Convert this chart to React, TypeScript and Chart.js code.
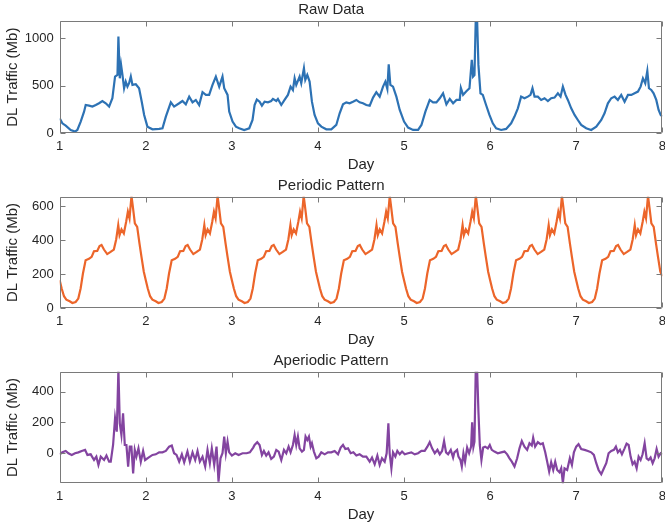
import React, { useEffect, useRef } from 'react';
import { Chart, registerables } from 'chart.js';

Chart.register(...registerables);

// ---------- data ----------
const dayTicks = [1, 2, 3, 4, 5, 6, 7, 8];
const rawTicks = [0, 500, 1000];
const periodicTicks = [0, 200, 400, 600];
const aperiodicTicks = [0, 200, 400];

const rawDays = [
  1.000, 1.031, 1.070, 1.128, 1.178, 1.205, 1.244, 1.283, 1.302, 1.341, 1.380, 1.419, 1.457, 1.496, 1.535, 1.574,
  1.612, 1.643, 1.671, 1.682, 1.698, 1.713, 1.729, 1.748, 1.767, 1.787, 1.806, 1.826, 1.845, 1.884, 1.922, 1.953,
  1.981, 2.019, 2.078, 2.155, 2.194, 2.233, 2.291, 2.329, 2.388, 2.426, 2.465, 2.504, 2.543, 2.581, 2.620, 2.659,
  2.698, 2.736, 2.775, 2.814, 2.853, 2.891, 2.911, 2.950, 2.969, 3.008, 3.047, 3.085, 3.143, 3.202, 3.240, 3.264,
  3.290, 3.322, 3.349, 3.380, 3.419, 3.457, 3.477, 3.516, 3.535, 3.574, 3.612, 3.651, 3.682, 3.709, 3.729, 3.748,
  3.787, 3.806, 3.837, 3.853, 3.876, 3.903, 3.930, 3.961, 4.000, 4.039, 4.097, 4.155, 4.213, 4.252, 4.291, 4.329,
  4.368, 4.407, 4.446, 4.484, 4.523, 4.562, 4.601, 4.640, 4.678, 4.717, 4.756, 4.783, 4.806, 4.822, 4.841, 4.872,
  4.911, 4.950, 5.000, 5.047, 5.105, 5.163, 5.202, 5.248, 5.298, 5.337, 5.376, 5.415, 5.453, 5.492, 5.531, 5.570,
  5.609, 5.647, 5.660, 5.686, 5.721, 5.760, 5.787, 5.802, 5.818, 5.833, 5.849, 5.864, 5.888, 5.915, 5.953, 5.992,
  6.031, 6.070, 6.128, 6.186, 6.244, 6.283, 6.322, 6.360, 6.399, 6.438, 6.469, 6.492, 6.516, 6.554, 6.593, 6.632,
  6.671, 6.709, 6.748, 6.787, 6.818, 6.845, 6.876, 6.903, 6.942, 6.981, 7.019, 7.058, 7.116, 7.174, 7.233, 7.291,
  7.329, 7.368, 7.407, 7.446, 7.484, 7.523, 7.562, 7.601, 7.640, 7.678, 7.717, 7.748, 7.775, 7.802, 7.826, 7.845,
  7.872, 7.899, 7.930, 7.957, 7.981, 8.000,
];
const rawValues = [
  158, 105, 81, 35, 18, 35, 123, 228, 298, 291, 281, 298, 316, 340, 316, 281,
  369, 597, 614, 1018, 579, 720, 614, 474, 544, 491, 527, 597, 509, 516, 474, 333,
  193, 70, 42, 46, 53, 176, 326, 281, 316, 340, 305, 386, 326, 351, 298, 432,
  404, 404, 509, 597, 491, 597, 474, 404, 228, 123, 70, 53, 35, 53, 140, 298,
  355, 333, 291, 333, 326, 340, 362, 340, 362, 298, 351, 404, 491, 456, 579, 509,
  597, 527, 684, 562, 614, 544, 333, 193, 105, 70, 42, 42, 88, 211, 305, 326,
  316, 333, 351, 326, 316, 298, 291, 376, 432, 386, 491, 544, 467, 727, 509, 491,
  386, 246, 123, 60, 35, 35, 88, 228, 351, 326, 326, 369, 421, 305, 362, 316,
  351, 351, 478, 404, 439, 474, 772, 597, 614, 1200, 1190, 720, 421, 404, 298, 193,
  105, 53, 35, 46, 105, 176, 263, 386, 369, 386, 404, 474, 386, 386, 351, 369,
  340, 369, 376, 421, 386, 491, 404, 351, 263, 193, 140, 88, 53, 35, 70, 140,
  211, 316, 369, 386, 351, 404, 333, 404, 404, 421, 439, 491, 579, 527, 656, 474,
  456, 421, 351, 246, 193, 176,
];

// one-day periodic profile (fraction of day -> Mb), identical every day
const periodicDayFraction = [
  0.000, 0.023, 0.050, 0.077, 0.116, 0.147, 0.185, 0.216, 0.243, 0.270, 0.301, 0.340, 0.371, 0.398, 0.436, 0.463,
  0.486, 0.514, 0.552, 0.591, 0.629, 0.656, 0.680, 0.695, 0.718, 0.745, 0.772, 0.792, 0.811, 0.834, 0.849, 0.873,
  0.900, 0.927, 0.950, 0.977,
];
const periodicProfile = [
  165, 116, 71, 51, 41, 31, 37, 57, 116, 204, 282, 290, 302, 335, 337, 365,
  371, 345, 318, 331, 345, 404, 488, 429, 463, 439, 508, 567, 528, 660, 600, 498,
  478, 380, 302, 215,
];
const periodicDays = [1, 2, 3, 4, 5, 6, 7];
const periodicEndDay = 8;
const periodicEndValue = 188;

const aperiodicDays = [
  1.000, 1.031, 1.070, 1.101, 1.140, 1.178, 1.217, 1.256, 1.295, 1.322, 1.360, 1.399, 1.426, 1.450, 1.477, 1.516,
  1.543, 1.574, 1.593, 1.620, 1.643, 1.663, 1.682, 1.698, 1.717, 1.736, 1.756, 1.775, 1.795, 1.814, 1.833, 1.853,
  1.872, 1.891, 1.915, 1.942, 1.969, 1.992, 2.031, 2.078, 2.116, 2.155, 2.194, 2.233, 2.271, 2.302, 2.329, 2.357,
  2.388, 2.419, 2.446, 2.484, 2.512, 2.543, 2.574, 2.601, 2.628, 2.659, 2.690, 2.717, 2.744, 2.767, 2.795, 2.822,
  2.845, 2.868, 2.891, 2.911, 2.930, 2.950, 2.969, 3.000, 3.039, 3.078, 3.124, 3.171, 3.209, 3.248, 3.264, 3.295,
  3.322, 3.349, 3.372, 3.399, 3.426, 3.457, 3.488, 3.516, 3.543, 3.574, 3.605, 3.632, 3.659, 3.682, 3.709, 3.729,
  3.748, 3.767, 3.787, 3.814, 3.837, 3.856, 3.876, 3.895, 3.915, 3.930, 3.953, 3.981, 4.008, 4.039, 4.078, 4.116,
  4.155, 4.194, 4.233, 4.264, 4.291, 4.318, 4.349, 4.380, 4.411, 4.446, 4.484, 4.523, 4.562, 4.601, 4.628, 4.659,
  4.690, 4.717, 4.744, 4.775, 4.798, 4.818, 4.833, 4.853, 4.872, 4.899, 4.922, 4.950, 4.977, 5.008, 5.047, 5.085,
  5.124, 5.163, 5.202, 5.240, 5.271, 5.298, 5.326, 5.357, 5.388, 5.415, 5.442, 5.465, 5.488, 5.512, 5.543, 5.570,
  5.585, 5.616, 5.632, 5.655, 5.671, 5.690, 5.709, 5.733, 5.756, 5.779, 5.791, 5.806, 5.818, 5.833, 5.849, 5.864,
  5.880, 5.899, 5.919, 5.942, 5.973, 5.996, 6.019, 6.050, 6.089, 6.128, 6.167, 6.198, 6.225, 6.252, 6.283, 6.314,
  6.341, 6.368, 6.399, 6.430, 6.457, 6.484, 6.500, 6.523, 6.554, 6.585, 6.612, 6.640, 6.663, 6.686, 6.709, 6.733,
  6.756, 6.779, 6.806, 6.826, 6.845, 6.864, 6.895, 6.926, 6.950, 6.973, 7.000, 7.027, 7.058, 7.097, 7.136, 7.174,
  7.205, 7.233, 7.260, 7.291, 7.322, 7.349, 7.376, 7.407, 7.438, 7.461, 7.484, 7.508, 7.531, 7.562, 7.585, 7.609,
  7.632, 7.655, 7.678, 7.702, 7.725, 7.748, 7.771, 7.795, 7.818, 7.841, 7.864, 7.888, 7.911, 7.934, 7.957, 7.981,
  8.000,
];
const aperiodicValues = [
  -9, 4, 13, -2, -13, -2, 4, 13, 20, -13, -9, -46, -24, -78, -24, -46,
  -17, -57, -57, 52, 226, 139, 545, 193, 117, 259, 52, 52, -89, 41, 41, -133,
  20, -24, 30, -57, 13, -46, -30, -13, -9, 4, 4, 13, 41, 48, -2, -13,
  -57, -9, -61, 9, -57, 4, -46, 13, -57, -24, -89, 20, -67, 30, -78, 41,
  -187, -35, -2, 107, -2, 74, 4, -17, -2, -13, -2, -2, 4, 35, 52, 70,
  52, -13, 13, -17, 4, -39, -24, 20, 9, -46, 20, -2, 41, 4, 52, 117,
  52, 107, 30, 9, 20, 107, 85, 107, 41, 63, 9, -35, -24, 4, -9, 4,
  4, 13, -9, 35, 52, 26, 30, -2, 4, -17, -9, -24, -24, -57, -30, -74,
  -17, -78, -35, -57, -2, 193, -2, -100, 4, -24, 13, -9, 9, -9, -2, 4,
  -9, -2, 13, 13, 41, 70, 30, -2, 20, -9, 13, 78, 4, -9, 20, -30,
  4, 20, -24, -46, -89, -2, -57, 35, -2, 41, 200, 41, 74, 545, 540, 270,
  52, -46, 35, 41, 30, 52, 20, 9, -2, 4, 9, -9, -35, -57, -89, -35,
  30, 78, 41, 20, 63, 48, 100, 41, 70, 57, 63, 4, -57, -122, -61, -111,
  -57, -111, -126, -100, -195, -100, -111, -35, -78, 4, 41, 57, 26, 20, 13, 4,
  -13, -67, -111, -139, -100, -67, -2, 13, 20, 41, 4, 20, -9, 30, 61, 52,
  -24, -74, -57, -100, -24, -46, -9, 63, -35, -46, -30, -67, -35, 26, -24, -2,
  -9,
];

// ---------- helpers ----------
const FONT = "'Liberation Sans', Arial, Helvetica, sans-serif";
const TEXT = '#262626';

const boxPlugin = {
  id: 'matlabBox',
  afterDatasetsDraw(chart: any) {
    const { ctx, chartArea } = chart;
    const { left, right, top, bottom } = chartArea;
    const xs = chart.scales.x;
    const ys = chart.scales.y;
    const L = Math.round(left) + 0.5;
    const R = Math.round(right) - 0.5;
    const T = Math.round(top) + 0.5;
    const B = Math.round(bottom) - 0.5;
    ctx.save();
    ctx.strokeStyle = '#7a7a7a';
    ctx.lineWidth = 1;
    ctx.beginPath();
    ctx.rect(L, T, R - L, B - T);
    const tl = 5;
    xs.ticks.forEach((t: any) => {
      const px = Math.round(xs.getPixelForValue(t.value)) + 0.5;
      ctx.moveTo(px, B);
      ctx.lineTo(px, B - tl);
      ctx.moveTo(px, T);
      ctx.lineTo(px, T + tl);
    });
    ys.ticks.forEach((t: any) => {
      const py = Math.round(ys.getPixelForValue(t.value)) + 0.5;
      ctx.moveTo(L, py);
      ctx.lineTo(L + tl, py);
      ctx.moveTo(R, py);
      ctx.lineTo(R - tl, py);
    });
    ctx.stroke();
    ctx.restore();
  },
};

function makeConfig(
  title: string,
  points: { x: number; y: number }[],
  color: string,
  yMin: number,
  yMax: number,
  yTicks: number[],
  titleTopPad: number
): any {
  return {
    type: 'line',
    data: {
      datasets: [
        {
          data: points,
          borderColor: color,
          borderWidth: 2.2,
          pointRadius: 0,
          tension: 0,
          fill: false,
        },
      ],
    },
    options: {
      responsive: false,
      animation: false,
      layout: { padding: { left: 0, right: 2.7, top: 0, bottom: 0 } },
      plugins: {
        legend: { display: false },
        tooltip: { enabled: false },
        title: {
          display: true,
          text: title,
          color: TEXT,
          font: { family: FONT, size: 15, weight: 'normal', lineHeight: 1.2 },
          padding: { top: titleTopPad, bottom: 2 },
        },
      },
      scales: {
        x: {
          type: 'linear',
          min: 1,
          max: 8,
          afterBuildTicks: (s: any) => {
            s.ticks = dayTicks.map((v) => ({ value: v }));
          },
          afterFit: (s: any) => {
            s.height = 41.7;
            s.paddingLeft = 0;
            s.paddingRight = 0;
          },
          grid: { display: false, drawTicks: false },
          border: { display: false },
          ticks: {
            color: TEXT,
            padding: 5.5,
            maxRotation: 0,
            autoSkip: false,
            font: { family: FONT, size: 13 },
            callback: (v: any) => String(v),
          },
          title: {
            display: true,
            text: 'Day',
            color: TEXT,
            font: { family: FONT, size: 15, lineHeight: 1.2 },
            padding: { top: 0, bottom: 1 },
          },
        },
        y: {
          type: 'linear',
          min: yMin,
          max: yMax,
          afterBuildTicks: (s: any) => {
            s.ticks = yTicks.map((v) => ({ value: v }));
          },
          afterFit: (s: any) => {
            s.width = 59.7;
            s.paddingTop = 0;
            s.paddingBottom = 0;
          },
          grid: { display: false, drawTicks: false },
          border: { display: false },
          ticks: {
            color: TEXT,
            padding: 6,
            autoSkip: false,
            font: { family: FONT, size: 13 },
            callback: (v: any) => String(v),
          },
          title: {
            display: true,
            text: 'DL Traffic (Mb)',
            color: TEXT,
            font: { family: FONT, size: 15, lineHeight: 1.2 },
            padding: { top: 4, bottom: 0 },
          },
        },
      },
    },
    plugins: [boxPlugin],
  };
}

function useChart(ref: React.RefObject<HTMLCanvasElement>, build: () => any) {
  useEffect(() => {
    if (!ref.current) return;
    const chart = new Chart(ref.current, build());
    return () => chart.destroy();
  }, []);
}

export default function App() {
  const c1 = useRef<HTMLCanvasElement>(null);
  const c2 = useRef<HTMLCanvasElement>(null);
  const c3 = useRef<HTMLCanvasElement>(null);

  useChart(c1, () =>
    makeConfig(
      'Raw Data',
      rawDays.map((x, i) => ({ x, y: rawValues[i] })),
      '#2D72B4',
      0,
      1182,
      rawTicks,
      1
    )
  );

  useChart(c2, () => {
    const pts: { x: number; y: number }[] = [];
    periodicDays.forEach((d) => {
      periodicDayFraction.forEach((f, i) => pts.push({ x: d + f, y: periodicProfile[i] }));
    });
    pts.push({ x: periodicEndDay, y: periodicEndValue });
    return makeConfig('Periodic Pattern', pts, '#EC652A', 0, 655, periodicTicks, 1.7);
  });

  useChart(c3, () =>
    makeConfig(
      'Aperiodic Pattern',
      aperiodicDays.map((x, i) => ({ x, y: aperiodicValues[i] })),
      '#8344A0',
      -198,
      530,
      aperiodicTicks,
      1.7
    )
  );

  const cs: React.CSSProperties = { position: 'absolute', left: 0, display: 'block' };
  return (
    <div style={{ position: 'absolute', left: 0, top: 0, width: 665, height: 527, background: '#fff' }}>
      <canvas ref={c1} width={665} height={175} style={{ ...cs, top: 0 }} />
      <canvas ref={c2} width={665} height={175} style={{ ...cs, top: 175 }} />
      <canvas ref={c3} width={665} height={175} style={{ ...cs, top: 350 }} />
    </div>
  );
}
